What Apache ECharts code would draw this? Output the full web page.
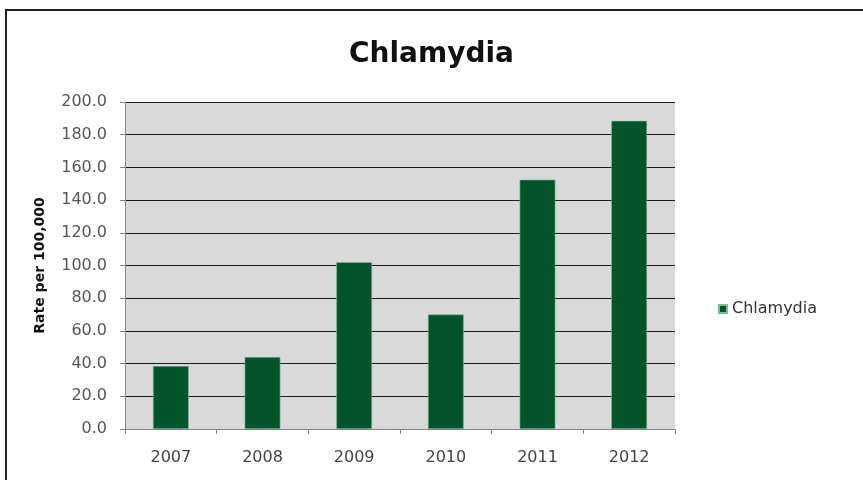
<!DOCTYPE html>
<html><head><meta charset="utf-8">
<script src="https://cdn.jsdelivr.net/npm/echarts@6/dist/echarts.min.js"></script>
<style>html,body{margin:0;padding:0;background:#fff}#c{width:863px;height:480px}</style>
</head><body><div id="c"></div>
<script>
const categories = ['2007','2008','2009','2010','2011','2012'];
const values = [38.5, 44.0, 102.0, 70.0, 152.5, 188.5];
const seriesName = 'Chlamydia';
const titleText = 'Chlamydia';
const yAxisName = 'Rate per 100,000';

const chart = echarts.init(document.getElementById('c'));
chart.setOption({
  animation: false,
  backgroundColor: '#fff',
  graphic: [{
    type: 'rect', shape: {x: 6, y: 10, width: 880, height: 500},
    style: {fill: 'none', stroke: '#222', lineWidth: 2}, z: -1
  }],
  title: {
    text: titleText, left: 'center', top: 36,
    textStyle: {fontFamily: 'DejaVu Sans', fontWeight: 'bold', fontSize: 28, color: '#111'}
  },
  legend: {
    data: [seriesName], left: 713, top: 296, orient: 'vertical',
    icon: 'rect', itemWidth: 8, itemHeight: 8, itemGap: 4,
    textStyle: {fontFamily: 'DejaVu Sans', fontSize: 16, color: '#333'}
  },
  grid: {left: 125, right: 188, top: 102, bottom: 51, containLabel: false,
         show: true, backgroundColor: '#d9d9d9', borderWidth: 0},
  xAxis: {
    type: 'category', data: categories,
    axisLine: {show: true, lineStyle: {color: '#868686'}},
    axisTick: {show: true, length: 5, lineStyle: {color: '#868686'}},
    axisLabel: {fontFamily: 'DejaVu Sans', fontSize: 16, color: '#444', margin: 21},
    splitLine: {show: false}
  },
  yAxis: {
    type: 'value', min: 0, max: 200, interval: 20,
    name: yAxisName, nameLocation: 'middle', nameGap: 78, nameRotate: 90,
    nameTextStyle: {fontFamily: 'DejaVu Sans', fontWeight: 'bold', fontSize: 14, color: '#111'},
    axisLine: {show: true, lineStyle: {color: '#868686'}},
    axisTick: {show: true, length: 5, lineStyle: {color: '#868686'}},
    axisLabel: {fontFamily: 'DejaVu Sans', fontSize: 16, color: '#555', margin: 18,
                formatter: v => v.toFixed(1)},
    splitLine: {show: true, lineStyle: {color: '#1a1a1a', width: 1}}
  },
  series: [{
    name: seriesName, type: 'bar', data: values, barWidth: '39%',
    itemStyle: {color: '#02542b', borderColor: '#7fb894', borderWidth: 0.6}
  }]
});
</script>
</body></html>
